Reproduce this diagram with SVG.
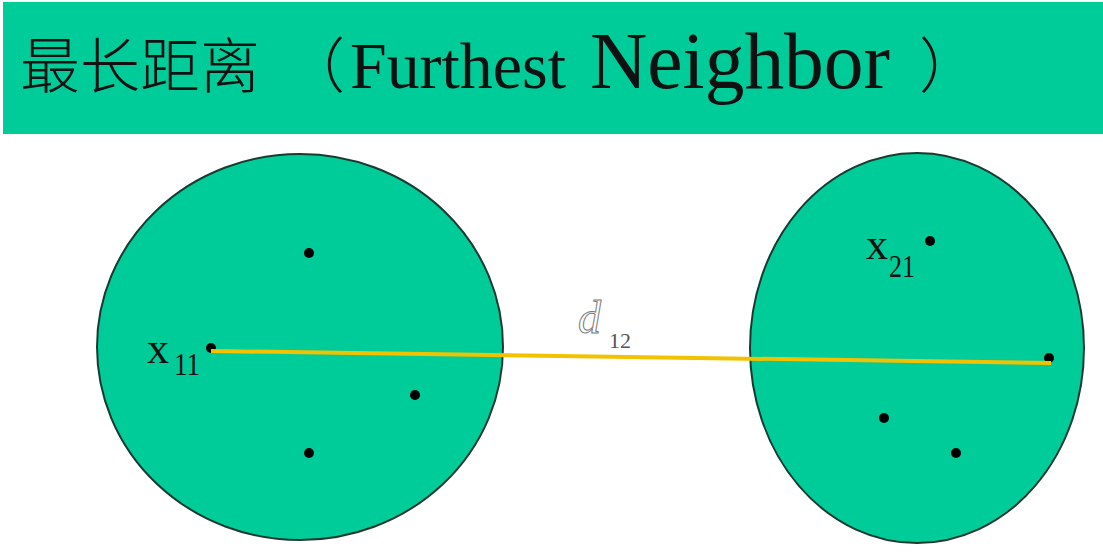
<svg xmlns="http://www.w3.org/2000/svg" width="1103" height="552" viewBox="0 0 1103 552">
<style>
.cl{fill:#00CC99;stroke:#1a3a30;stroke-width:2}
.dot{fill:#000}
.lab{font-family:"Liberation Serif",serif;fill:#111}
.cjk{font-family:"Noto Sans CJK SC",sans-serif;font-size:60px;font-weight:300}
</style>
<rect x="0" y="0" width="1103" height="552" fill="#fff"/>
<g id="title">
<rect x="3" y="2" width="1100" height="132" fill="#00CC99"/>
<text y="88" class="lab" fill="#000"><tspan x="20" class="cjk">最长距离</tspan><tspan x="285" class="cjk" font-size="64">（</tspan><tspan x="350" font-size="66" textLength="216" lengthAdjust="spacingAndGlyphs">Furthest</tspan><tspan x="590" font-size="80" textLength="300" lengthAdjust="spacingAndGlyphs">Neighbor</tspan><tspan x="919" class="cjk" font-size="64">）</tspan></text>
</g>
<g id="cluster1">
<ellipse class="cl" cx="300" cy="347" rx="203" ry="193"/>
<circle class="dot" cx="309" cy="253" r="5"/>
<circle class="dot" cx="211" cy="348" r="5"/>
<circle class="dot" cx="415" cy="395" r="5"/>
<circle class="dot" cx="309" cy="453" r="5"/>
<text class="lab" x="147" y="363" font-size="44">x</text>
<text class="lab" x="174" y="375" font-size="32" textLength="26" lengthAdjust="spacingAndGlyphs">11</text>
</g>
<g id="cluster2">
<ellipse class="cl" cx="917" cy="348" rx="167" ry="195"/>
<circle class="dot" cx="930" cy="241" r="5"/>
<circle class="dot" cx="1049" cy="358" r="5"/>
<circle class="dot" cx="884" cy="418" r="5"/>
<circle class="dot" cx="956" cy="453" r="5"/>
<text class="lab" x="866" y="259" font-size="44">x</text>
<text class="lab" x="889" y="277" font-size="32" textLength="26" lengthAdjust="spacingAndGlyphs">21</text>
</g>
<g id="connectors">
<line x1="211" y1="351" x2="1051" y2="363" stroke="#F2C200" stroke-width="4"/>
<text x="578" y="333" font-family="'Liberation Serif',serif" font-style="italic" font-size="46" fill="#fff" stroke="#777" stroke-width="1">d</text>
<text x="609" y="348" font-family="'Liberation Serif',serif" font-size="22" fill="#555">12</text>
</g>
</svg>
